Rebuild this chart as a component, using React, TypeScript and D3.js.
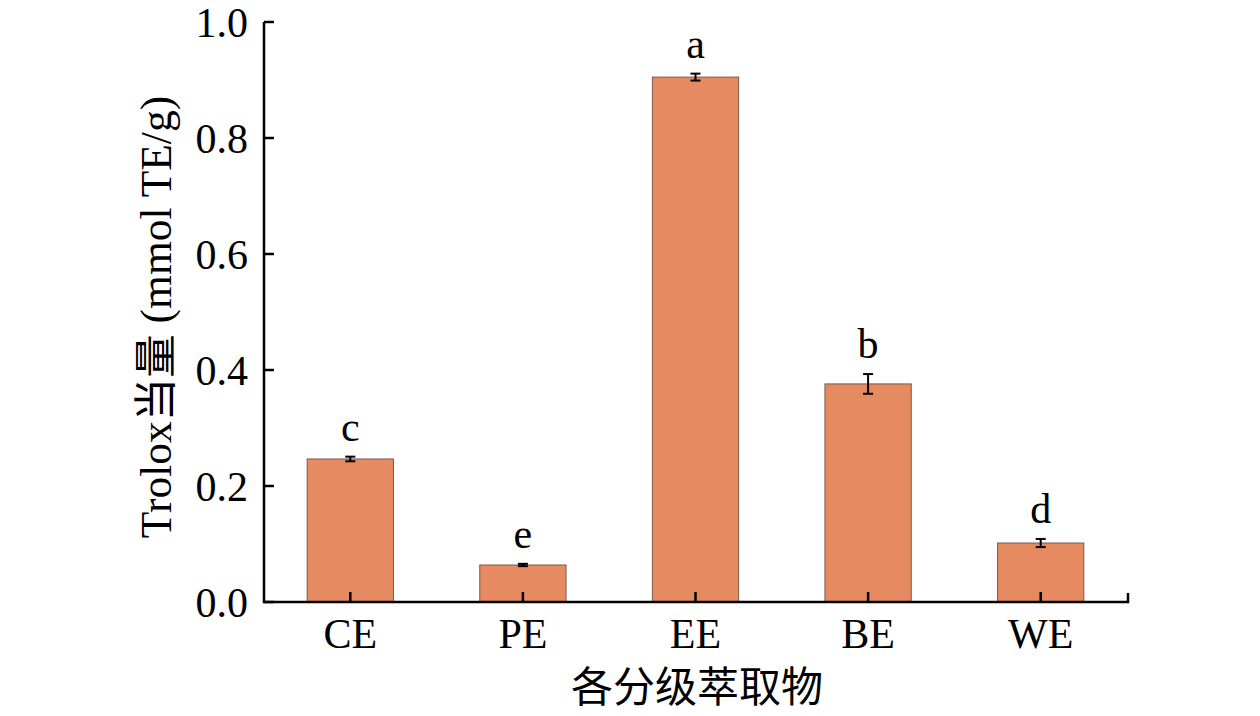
import React from "react";
import * as d3 from "d3";

const categories = ["CE", "PE", "EE", "BE", "WE"];
const values = [0.2466, 0.0638, 0.905, 0.376, 0.1017];
const errors = [0.004, 0.002, 0.006, 0.017, 0.007];
const letters = ["c", "e", "a", "b", "d"];
const yTicks = [0, 0.2, 0.4, 0.6, 0.8, 1.0];

const W = 1260;
const H = 716;
const X0 = 264;
const X1 = 1127;
const Y0 = 602;
const Y1 = 22;
const serif = "'Liberation Serif', 'Times New Roman', serif";
const cjk = "'Noto Sans CJK SC', sans-serif";

export default function App() {
  const x = d3.scaleBand<string>().domain(categories).range([X0, X1]).paddingInner(0.5).paddingOuter(0.25);
  const y = d3.scaleLinear().domain([0, 1]).range([Y0, Y1]);
  const bw = x.bandwidth();
  return (
    <svg width={W} height={H} style={{ position: "absolute", left: 0, top: 0, background: "#fff" }}>
      {categories.map((c, i) => {
        const cx = (x(c) as number) + bw / 2;
        const top = y(values[i] + errors[i]);
        const bot = y(values[i] - errors[i]);
        return (
          <g key={c}>
            <rect x={x(c)} y={y(values[i])} width={bw} height={Y0 - y(values[i])} fill="#E68A62" stroke="#7a5a4a" strokeWidth={1} />
            <line x1={cx} x2={cx} y1={top} y2={bot} stroke="#000" strokeWidth={2} />
            <line x1={cx - 5} x2={cx + 5} y1={top} y2={top} stroke="#000" strokeWidth={2} />
            <line x1={cx - 5} x2={cx + 5} y1={bot} y2={bot} stroke="#000" strokeWidth={2} />
            <text x={cx} y={top - 16} textAnchor="middle" fontFamily={serif} fontSize={42}>{letters[i]}</text>
            <line x1={cx} x2={cx} y1={Y0} y2={Y0 - 10} stroke="#000" strokeWidth={2.5} />
            <text x={cx} y={648} textAnchor="middle" fontFamily={serif} fontSize={42}>{c}</text>
          </g>
        );
      })}
      {yTicks.map((t) => (
        <g key={t}>
          <line x1={X0} x2={X0 + 10} y1={y(t)} y2={y(t)} stroke="#000" strokeWidth={2.5} />
          <text x={248} y={y(t)} dy="0.35em" textAnchor="end" fontFamily={serif} fontSize={42}>{d3.format(".1f")(t)}</text>
        </g>
      ))}
      <path d={`M${X0},${Y1} V${Y0} H${X1 + 1} V${Y0 - 9}`} fill="none" stroke="#000" strokeWidth={2.5} />
      <text transform={`translate(171,317) rotate(-90)`} textAnchor="middle" fontFamily={serif} fontSize={43.5}>
        Trolox<tspan fontFamily={cjk}>当量</tspan> (mmol TE/g)
      </text>
      <text x={697} y={702} textAnchor="middle" fontFamily={cjk} fontSize={42}>各分级萃取物</text>
    </svg>
  );
}
